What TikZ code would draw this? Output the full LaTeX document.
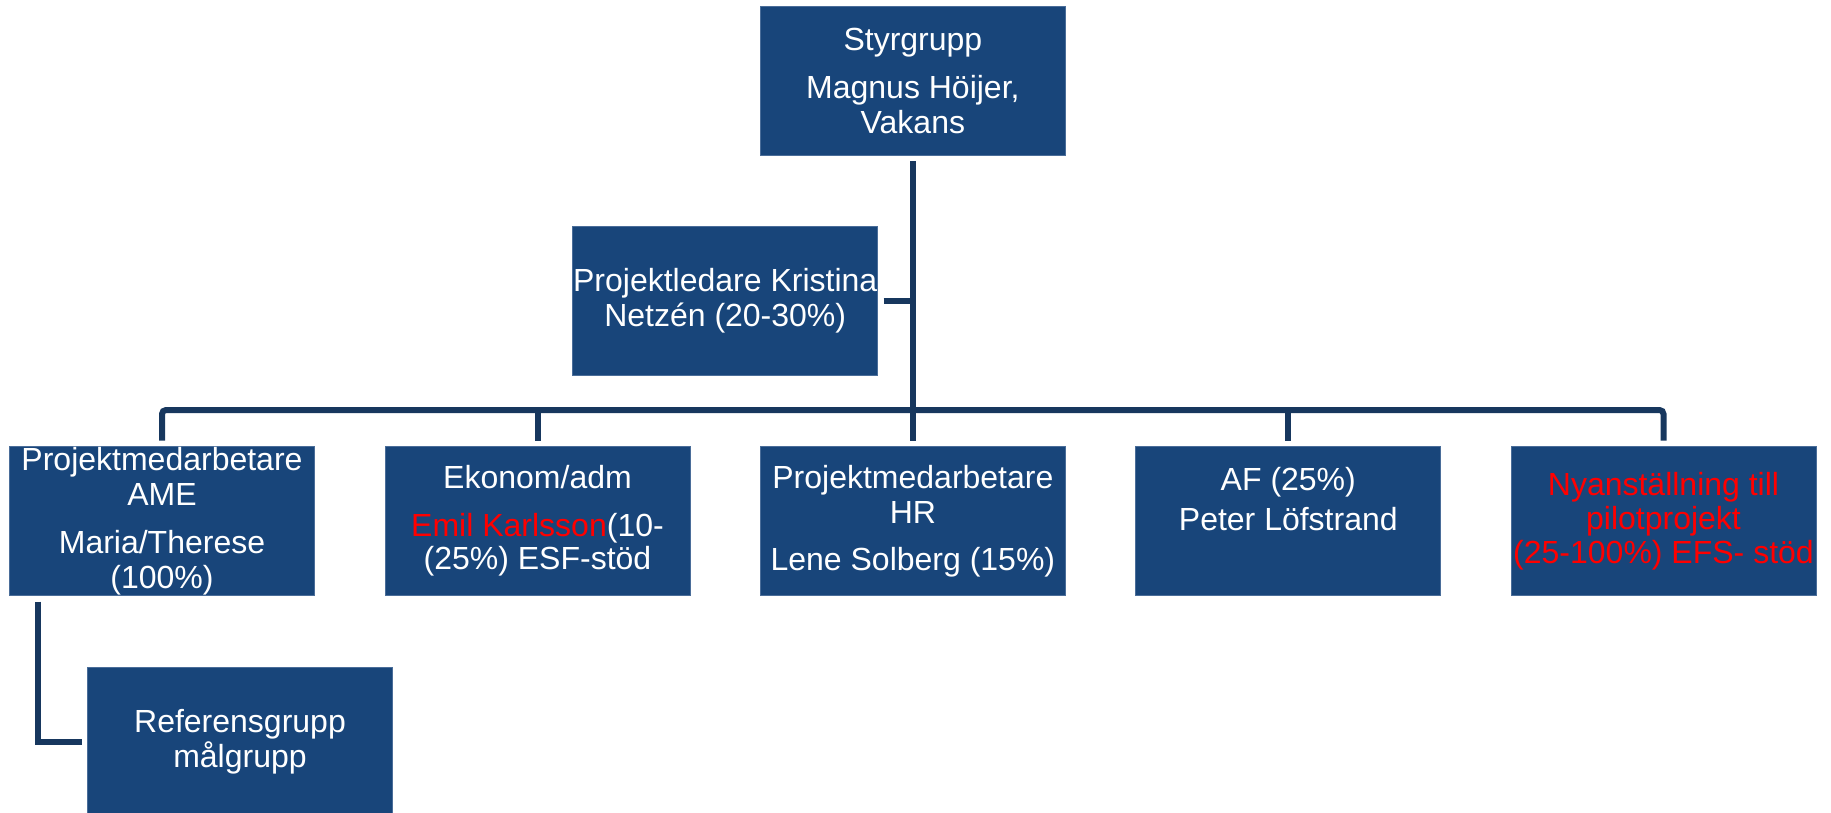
\documentclass[tikz,border=0pt]{standalone}
\usepackage{fontspec}
\setmainfont{Liberation Sans}
\usetikzlibrary{calc}
\definecolor{boxblue}{HTML}{18457A}
\definecolor{boxedge}{HTML}{4A6D99}
\definecolor{linenavy}{HTML}{17375E}
\definecolor{txtred}{HTML}{FF0000}
\begin{document}
\begin{tikzpicture}[x=1pt,y=-1pt,
  box/.style={fill=boxblue, draw=boxedge, line width=0.8pt,
    minimum width=305pt, minimum height=149pt, inner sep=0pt, outer sep=6pt,
    align=center, text=white, font=\fontsize{32}{35}\selectfont},
  conn/.style={draw=linenavy, line width=6pt}]
\useasboundingbox (0,0) rectangle (1831,812);

\node[box] (sty) at (912.9,80.5) {Styrgrupp\\[13pt]Magnus Höijer,\\Vakans};
\node[box] (pl) at (725.2,300.5) {Projektledare Kristina\\Netzén (20-30\%)};
\node[box] (ame) at (162,521.2) {Projektmedarbetare\\AME\\[13pt]Maria/Therese\\(100\%)};
\node[box] (ekon) at (537.5,521.2) {Ekonom/adm\\[13pt]{\color{txtred}Emil Karlsson}(10-\\[-2pt](25\%) ESF-stöd};
\node[box] (hr) at (912.9,521.2) {Projektmedarbetare\\HR\\[12pt]Lene Solberg (15\%)};
\node[box] (af) at (1288.3,521.2) {AF (25\%)\\[5pt]Peter Löfstrand\\[10pt]\mbox{}};
\node[box, text=txtred] (nyan) at (1663.5,521.2) {Nyanställning till\\[-1pt]pilotprojekt\\[-1pt](25-100\%) EFS- stöd};
\node[box] (ref) at (240,741.7) {Referensgrupp\\målgrupp};

\coordinate (bus) at ([yshift=30.7pt]hr.north);
\draw[conn] (sty.south) -- (hr.north);
\draw[conn] (pl.east) -- (pl.east -| sty.south);
\draw[conn, rounded corners=4pt] (ame.north) |- (bus) -| (nyan.north);
\draw[conn] (ekon.north) -- (ekon.north |- bus);
\draw[conn] (af.north) -- (af.north |- bus);
\draw[conn] ([xshift=34pt]ame.south west) |- (ref.west);
\end{tikzpicture}
\end{document}
